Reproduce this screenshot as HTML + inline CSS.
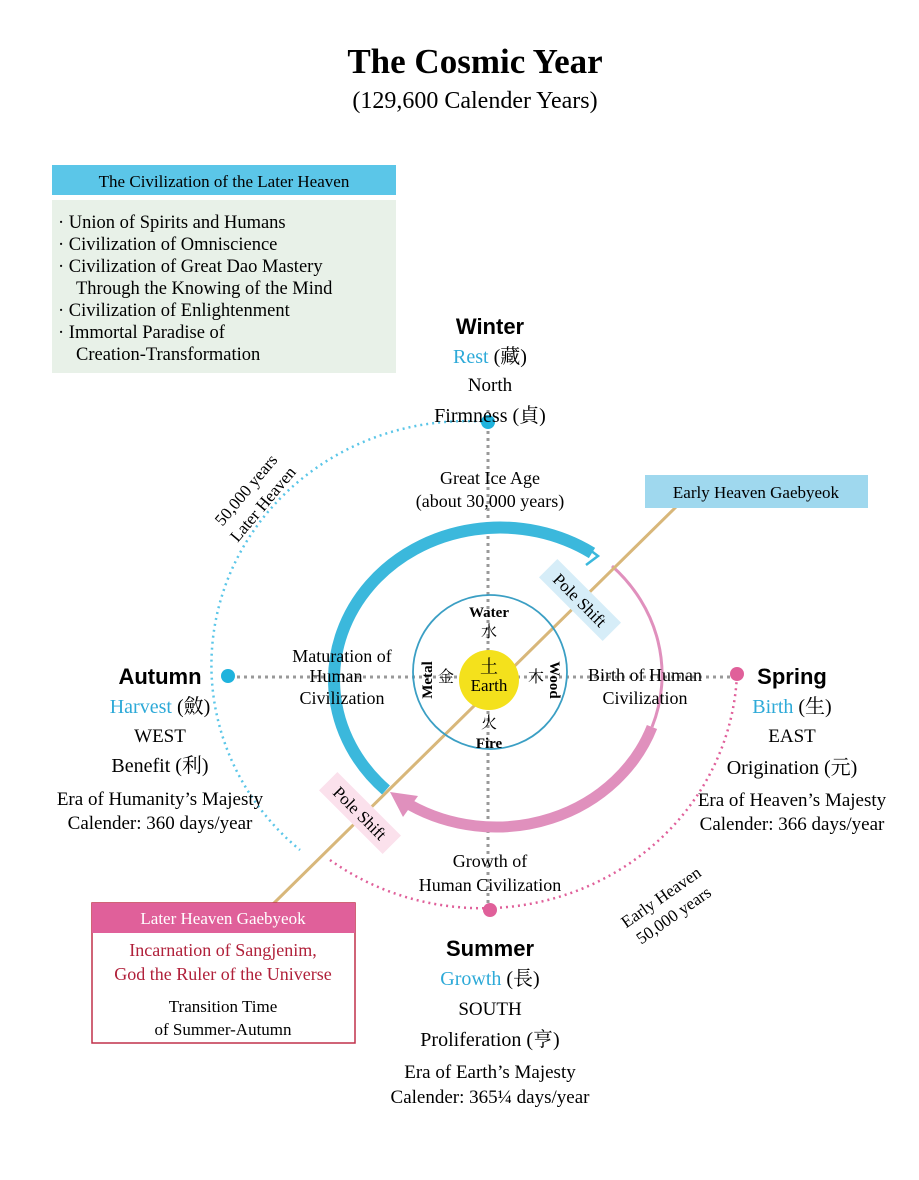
<!DOCTYPE html>
<html><head><meta charset="utf-8"><style>
body{margin:0;background:#fff;}
svg{display:block;font-family:"Liberation Serif","Noto Serif CJK SC",serif;}
.s{font-family:"Liberation Sans","Noto Sans CJK SC",sans-serif;font-weight:bold;}
</style></head><body>
<svg width="919" height="1180" viewBox="0 0 919 1180" xmlns="http://www.w3.org/2000/svg">
<text x="475" y="73" font-size="35" font-weight="bold" text-anchor="middle">The Cosmic Year</text>
<text x="475" y="108" font-size="24" text-anchor="middle">(129,600 Calender Years)</text>

<rect x="52" y="165" width="344" height="30" fill="#5bc6e8"/>
<text x="224" y="187" font-size="17" text-anchor="middle">The Civilization of the Later Heaven</text>
<rect x="52" y="200" width="344" height="173" fill="#e8f1e8"/>
<g font-size="18.5">
<text x="58" y="228">· Union of Spirits and Humans</text>
<text x="58" y="250">· Civilization of Omniscience</text>
<text x="58" y="272">· Civilization of Great Dao Mastery</text>
<text x="76" y="294">Through the Knowing of the Mind</text>
<text x="58" y="316">· Civilization of Enlightenment</text>
<text x="58" y="338">· Immortal Paradise of</text>
<text x="76" y="360">Creation-Transformation</text>
</g>

<!-- dotted axes -->
<line x1="488" y1="410" x2="488" y2="910" stroke="#999" stroke-width="3" stroke-dasharray="3,4"/>
<line x1="230" y1="677" x2="737" y2="677" stroke="#999" stroke-width="3" stroke-dasharray="3,4"/>

<!-- big dotted ellipse -->
<path d="M488,422 A255,244 0 0 0 300,850" fill="none" stroke="#5bc6e8" stroke-width="2.5" stroke-dasharray="2,4"/>
<path d="M330,860 A255,244 0 0 0 737,674" fill="none" stroke="#e0609a" stroke-width="2.5" stroke-dasharray="2,4"/>

<!-- outer arcs -->
<path d="M386,790 A166,152 0 0 1 592,553" fill="none" stroke="#3bb8dc" stroke-width="12"/>
<path d="M586,547 L598,556 L586,565" fill="none" stroke="#3bb8dc" stroke-width="2.5"/>
<path d="M612,566 A166,152 0 0 1 652,727" fill="none" stroke="#e090bd" stroke-width="3"/>
<path d="M652,727 A166,152 0 0 1 410,805" fill="none" stroke="#e090bd" stroke-width="11"/>
<path d="M390,792 L418,796 L403,817 Z" fill="#e090bd"/>

<!-- diagonal -->
<line x1="272" y1="905" x2="678" y2="505" stroke="#d8b77a" stroke-width="3"/>

<!-- inner circle -->
<circle cx="490" cy="672" r="77" fill="none" stroke="#3b9fc4" stroke-width="1.8"/>
<circle cx="489" cy="680" r="30" fill="#f4e11c"/>
<text x="489" y="673" font-size="18" text-anchor="middle">土</text>
<text x="489" y="691" font-size="17" text-anchor="middle">Earth</text>
<text x="489" y="617" font-size="15" font-weight="bold" text-anchor="middle">Water</text>
<text x="489" y="637" font-size="16" text-anchor="middle">水</text>
<text x="489" y="728" font-size="16" text-anchor="middle">火</text>
<text x="489" y="748" font-size="15" font-weight="bold" text-anchor="middle">Fire</text>
<text x="446" y="682" font-size="16" text-anchor="middle">金</text>
<text x="536" y="682" font-size="16" text-anchor="middle">木</text>
<text transform="translate(432,680) rotate(-90)" font-size="15" font-weight="bold" text-anchor="middle">Metal</text>
<text transform="translate(550,680) rotate(90)" font-size="15" font-weight="bold" text-anchor="middle">Wood</text>

<!-- pole shift labels -->
<g transform="translate(580,600) rotate(45)"><rect x="-45" y="-13" width="90" height="26" fill="#d6edf8"/><text x="0" y="6" font-size="17" text-anchor="middle">Pole Shift</text></g>
<g transform="translate(360,813) rotate(45)"><rect x="-45" y="-13" width="90" height="26" fill="#fbe1ec"/><text x="0" y="6" font-size="17" text-anchor="middle">Pole Shift</text></g>

<!-- inner labels -->
<g font-size="18" text-anchor="middle">
<text x="490" y="484">Great Ice Age</text>
<text x="490" y="507">(about 30,000 years)</text>
<text x="342" y="662">Maturation of</text>
<text x="336" y="682">Human</text>
<text x="342" y="704">Civilization</text>
<text x="645" y="681">Birth of Human</text>
<text x="645" y="704">Civilization</text>
<text x="490" y="867">Growth of</text>
<text x="490" y="891">Human Civilization</text>
</g>

<!-- dots -->
<circle cx="488" cy="422" r="7" fill="#1fb3dd"/>
<circle cx="228" cy="676" r="7" fill="#1fb3dd"/>
<circle cx="737" cy="674" r="7" fill="#e0609a"/>
<circle cx="490" cy="910" r="7" fill="#e0609a"/>

<!-- Winter -->
<text x="490" y="334" class="s" font-size="22" text-anchor="middle">Winter</text>
<text x="490" y="363" font-size="20" text-anchor="middle"><tspan fill="#2eaad8">Rest</tspan> (藏)</text>
<text x="490" y="391" font-size="19" text-anchor="middle">North</text>
<text x="490" y="422" font-size="20" text-anchor="middle">Firmness (貞)</text>

<!-- Autumn -->
<text x="160" y="684" class="s" font-size="22" text-anchor="middle">Autumn</text>
<text x="160" y="713" font-size="20" text-anchor="middle"><tspan fill="#2eaad8">Harvest</tspan> (斂)</text>
<text x="160" y="742" font-size="19" text-anchor="middle">WEST</text>
<text x="160" y="772" font-size="20" text-anchor="middle">Benefit (利)</text>
<text x="160" y="805" font-size="19" text-anchor="middle">Era of Humanity’s Majesty</text>
<text x="160" y="829" font-size="19" text-anchor="middle">Calender: 360 days/year</text>

<!-- Spring -->
<text x="792" y="684" class="s" font-size="22" text-anchor="middle">Spring</text>
<text x="792" y="713" font-size="20" text-anchor="middle"><tspan fill="#2eaad8">Birth</tspan> (生)</text>
<text x="792" y="742" font-size="19" text-anchor="middle">EAST</text>
<text x="792" y="774" font-size="20" text-anchor="middle">Origination (元)</text>
<text x="792" y="806" font-size="19" text-anchor="middle">Era of Heaven’s Majesty</text>
<text x="792" y="830" font-size="19" text-anchor="middle">Calender: 366 days/year</text>

<!-- Summer -->
<text x="490" y="956" class="s" font-size="22" text-anchor="middle">Summer</text>
<text x="490" y="985" font-size="20" text-anchor="middle"><tspan fill="#2eaad8">Growth</tspan> (長)</text>
<text x="490" y="1015" font-size="19" text-anchor="middle">SOUTH</text>
<text x="490" y="1046" font-size="20" text-anchor="middle">Proliferation (亨)</text>
<text x="490" y="1078" font-size="19" text-anchor="middle">Era of Earth’s Majesty</text>
<text x="490" y="1103" font-size="19" text-anchor="middle">Calender: 365¼ days/year</text>

<!-- rotated year labels -->
<g transform="translate(258,500) rotate(-50)" font-size="17" text-anchor="middle"><text x="0" y="-10">50,000 years</text><text x="0" y="12">Later Heaven</text></g>
<g transform="translate(670,910) rotate(-35)" font-size="17" text-anchor="middle"><text x="0" y="-10">Early Heaven</text><text x="0" y="12">50,000 years</text></g>

<!-- Early heaven box -->
<rect x="645" y="475" width="223" height="33" fill="#9fd8ee"/>
<text x="756" y="498" font-size="17" text-anchor="middle">Early Heaven Gaebyeok</text>

<!-- Later heaven box -->
<rect x="92" y="903" width="263" height="140" fill="#fff" stroke="#c0304a" stroke-width="1.5"/>
<rect x="92" y="903" width="263" height="30" fill="#e0609a"/>
<text x="223" y="924" font-size="17" fill="#fff" text-anchor="middle">Later Heaven Gaebyeok</text>
<text x="223" y="956" font-size="18" fill="#b0203a" text-anchor="middle">Incarnation of Sangjenim,</text>
<text x="223" y="980" font-size="18" fill="#b0203a" text-anchor="middle">God the Ruler of the Universe</text>
<text x="223" y="1012" font-size="17" text-anchor="middle">Transition Time</text>
<text x="223" y="1035" font-size="17" text-anchor="middle">of Summer-Autumn</text>
</svg>
</body></html>
